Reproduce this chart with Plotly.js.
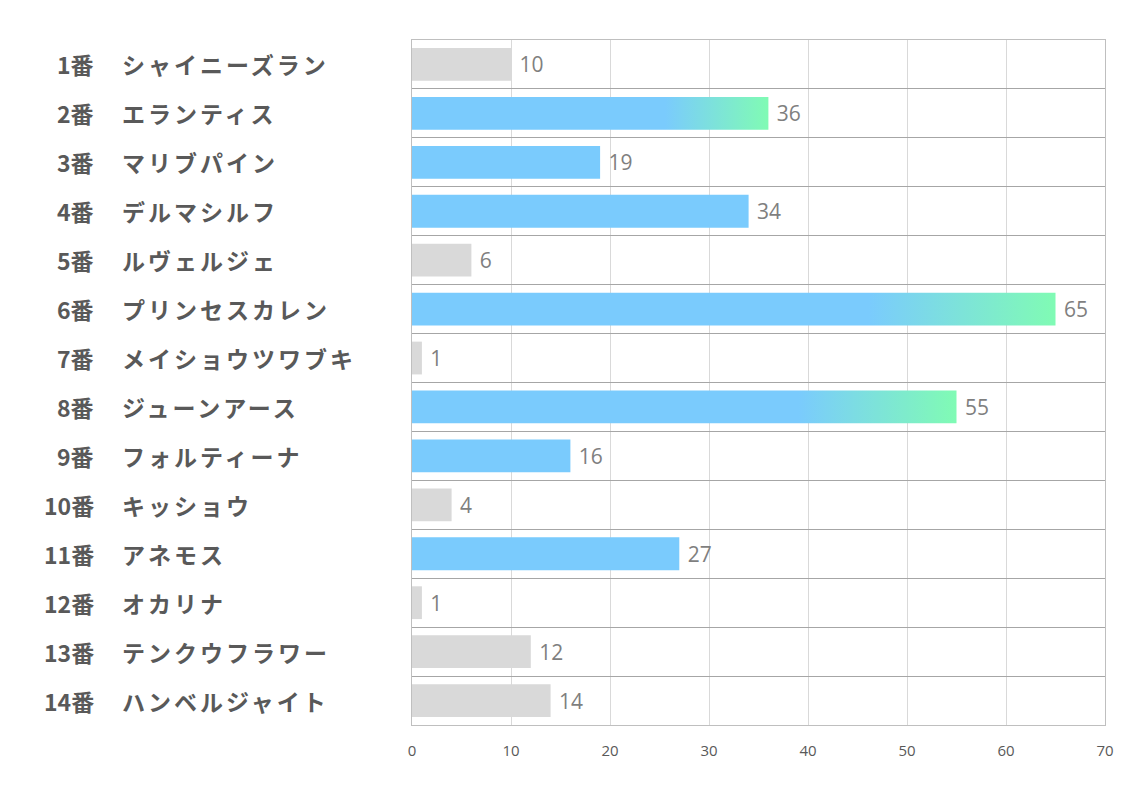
<!DOCTYPE html>
<html><head><meta charset="utf-8">
<script src="https://cdn.plot.ly/plotly-3.0.1.min.js"></script>
<style>html,body{margin:0;padding:0;background:#fff;}#chart{width:1134px;height:793px;}</style>
</head><body><div id="chart"></div>
<script>
const numbers = ["1番","2番","3番","4番","5番","6番","7番","8番","9番","10番","11番","12番","13番","14番"];
const names = ["シャイニーズラン","エランティス","マリブパイン","デルマシルフ","ルヴェルジェ","プリンセスカレン","メイショウツワブキ","ジューンアース","フォルティーナ","キッショウ","アネモス","オカリナ","テンクウフラワー","ハンベルジャイト"];
const values = [10,36,19,34,6,65,1,55,16,4,27,1,12,14];
const kinds = ["gray","grad","blue","blue","gray","grad","gray","grad","blue","gray","blue","gray","gray","gray"];
const xTicks = [0,10,20,30,40,50,60,70];

const palette = {gray:"#d9d9d9", blue:"#7acbfd", grad:"#7acbfd"};
const gradEnd = "#80fbb4";

const trace = {
  type: "bar", orientation: "h",
  y: numbers, x: values,
  marker: {color: kinds.map(k => palette[k]), line: {width: 0}},
  text: values.map(v => "\u00a0" + v), textposition: "outside",
  textfont: {family: "Open Sans, Noto Sans, sans-serif", size: 21, color: "#7f7f7f"},
  cliponaxis: false, hoverinfo: "none"
};

const annotations = [];
numbers.forEach((n, i) => {
  annotations.push({xref:"paper", yref:"y", x:-0.456, y:n, xanchor:"right", yanchor:"middle", text:"<b>"+n+"</b>", showarrow:false, font:{family:"Noto Sans CJK JP, sans-serif", size:23, color:"#595959"}});
  annotations.push({xref:"paper", yref:"y", x:-0.4185, y:n, xanchor:"left", yanchor:"middle", text:"<b>"+names[i]+"</b>", showarrow:false, font:{family:"Noto Sans CJK JP, sans-serif", size:23, color:"#595959"}});
});

const layout = {
  width: 1134, height: 793,
  margin: {l: 412, r: 29, t: 40, b: 68},
  paper_bgcolor: "#fff", plot_bgcolor: "#fff",
  showlegend: false, bargap: 0.33,
  xaxis: {range: [0, 70], tickvals: xTicks, ticktext: xTicks.map(String), showgrid: true, gridcolor: "#d9d9d9", gridwidth: 1,
    zeroline: false, showline: true, linecolor: "#bfbfbf", mirror: true, ticks: "", ticklabelstandoff: 12,
    tickfont: {family: "Open Sans, Noto Sans, sans-serif", size: 15, color: "#595959"}, fixedrange: true},
  yaxis: {type: "category", autorange: "reversed", showticklabels: false, tickson: "boundaries", showgrid: true, gridcolor: "#a6a6a6", gridwidth: 1,
    showline: true, linecolor: "#bfbfbf", mirror: true, ticks: "", zeroline: false, fixedrange: true},
  annotations: annotations
};

Plotly.newPlot("chart", [trace], layout, {displayModeBar: false, staticPlot: true}).then(gd => {
  const svg = gd.querySelector("svg.main-svg");
  const ns = "http://www.w3.org/2000/svg";
  let defs = svg.querySelector("defs");
  if (!defs) { defs = document.createElementNS(ns, "defs"); svg.insertBefore(defs, svg.firstChild); }
  const lg = document.createElementNS(ns, "linearGradient");
  lg.setAttribute("id", "barGrad");
  lg.setAttribute("x1", "0"); lg.setAttribute("y1", "0"); lg.setAttribute("x2", "1"); lg.setAttribute("y2", "0");
  [[0, palette.blue], [0.71, palette.blue], [1, gradEnd]].forEach(([o, c]) => {
    const s = document.createElementNS(ns, "stop");
    s.setAttribute("offset", o); s.setAttribute("stop-color", c);
    lg.appendChild(s);
  });
  defs.appendChild(lg);
  const paths = gd.querySelectorAll(".barlayer .point path");
  paths.forEach((p, i) => { if (kinds[i] === "grad") p.style.fill = "url(#barGrad)"; });
  const annTexts = gd.querySelectorAll(".annotation-text");
  annTexts.forEach((t, i) => {
    if (i % 2 === 1) {
      const bb = t.getBBox();
      t.setAttribute("text-anchor", "start");
      t.setAttribute("x", bb.x - 2);
      t.style.letterSpacing = "3px";
    }
  });
});
</script></body></html>
